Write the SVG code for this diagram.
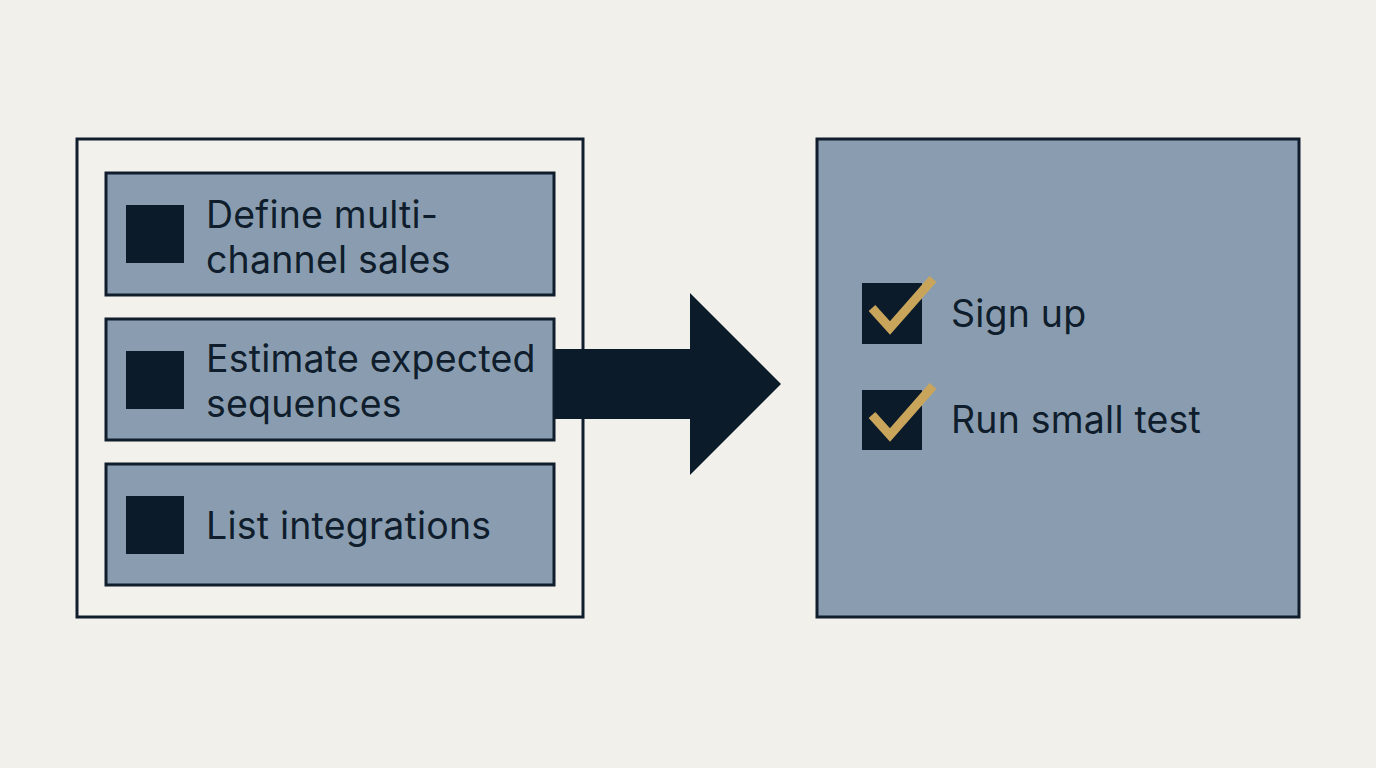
<svg xmlns="http://www.w3.org/2000/svg" width="1376" height="768" viewBox="0 0 1376 768">
<style>
.txt{font-family:Inter,"Liberation Sans",sans-serif;font-size:37.5px;letter-spacing:0.2px;fill:#0f1d2c}
.item{fill:#8a9db0;stroke:#0f1d2c;stroke-width:3}
.sq{fill:#0c1b2a}
.chk{fill:none;stroke:#c9a55c;stroke-width:9;stroke-linecap:butt;stroke-linejoin:miter}
</style>
<rect width="1376" height="768" fill="#f2f0ea"/>
<g id="left-panel">
<rect x="77" y="139" width="506" height="478" fill="#f3f1eb" stroke="#0f1d2c" stroke-width="3"/>
</g>
<g id="item1">
<rect class="item" x="106" y="173" width="448" height="122"/>
<rect class="sq" x="126" y="205" width="58" height="58"/>
<text class="txt" x="206" y="228">Define multi-</text>
<text class="txt" x="206" y="273">channel sales</text>
</g>
<g id="item2">
<rect class="item" x="106" y="319" width="448" height="121"/>
<rect class="sq" x="126" y="351" width="58" height="58"/>
<text class="txt" x="206" y="372">Estimate expected</text>
<text class="txt" x="206" y="417">sequences</text>
</g>
<g id="item3">
<rect class="item" x="106" y="464" width="448" height="121"/>
<rect class="sq" x="126" y="496" width="58" height="58"/>
<text class="txt" x="206" y="539">List integrations</text>
</g>
<g id="connectors">
<polygon points="555,349 690,349 690,293 781,384 690,475 690,419 555,419" fill="#0c1b2a"/>
</g>
<g id="right-panel">
<rect x="817" y="139" width="482" height="478" fill="#8a9db0" stroke="#0f1d2c" stroke-width="3"/>
<rect class="sq" x="862" y="283" width="60" height="61"/>
<polyline class="chk" points="872,308 890,328 933,279"/>
<text class="txt" x="951" y="327">Sign up</text>
<rect class="sq" x="862" y="390" width="60" height="60"/>
<polyline class="chk" points="872,415 890,435 933,386"/>
<text class="txt" x="951" y="433">Run small test</text>
</g>
</svg>
